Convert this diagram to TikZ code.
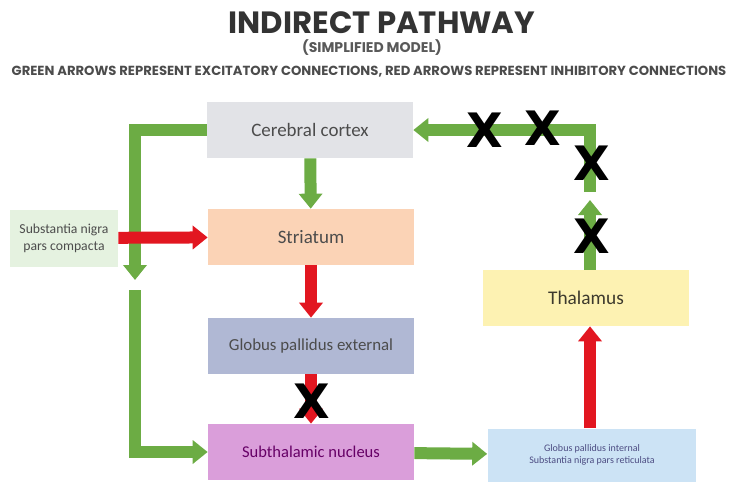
\documentclass[tikz,border=0pt]{standalone}
\usepackage{fontspec}
\setmainfont{Carlito}
\newfontfamily\headfont{Poppins}
\newfontfamily\crossfont{DejaVu Sans}
\usetikzlibrary{arrows.meta}

\definecolor{exgreen}{RGB}{108,172,68}
\definecolor{inred}{RGB}{226,22,32}
\definecolor{cortexfill}{RGB}{226,227,231}
\definecolor{striatfill}{RGB}{251,211,182}
\definecolor{gpefill}{RGB}{176,184,212}
\definecolor{stnfill}{RGB}{218,158,218}
\definecolor{sncfill}{RGB}{229,242,224}
\definecolor{thalfill}{RGB}{253,242,178}
\definecolor{gpifill}{RGB}{204,227,245}

\begin{document}
\begin{tikzpicture}
	[x=0.02cm, y=-0.02cm,
	box/.style ={rectangle, text=black!70, align=center, font=\fontsize{10.8}{12}\selectfont, minimum width=4.12cm, minimum height=1.12cm, inner sep=1pt},
	smallbox/.style ={box, font=\fontsize{5.7}{7}\selectfont},
	exc/.style ={draw=exgreen, line width=0.24cm, -{Triangle[length=0.3cm, width=0.46cm]}},
	inh/.style ={draw=inred, line width=0.24cm, -{Triangle[length=0.3cm, width=0.46cm]}},
	cross/.style ={font=\crossfont\bfseries\fontsize{27}{27}\selectfont, text=black, inner sep=0pt}]
	\useasboundingbox (0,0) rectangle (733,481);
	% headings
	\draw (382,23) node[font=\headfont\bfseries\fontsize{17.5}{19}\selectfont, text=black!80] (title) {INDIRECT PATHWAY};
	\draw (372,48) node[font=\headfont\bfseries\fontsize{8}{9}\selectfont, text=black!65] (subtitle) {(SIMPLIFIED MODEL)};
	\draw (369,72) node[font=\headfont\bfseries\fontsize{7.5}{8}\selectfont, text=black!70] (legend) {GREEN ARROWS REPRESENT EXCITATORY CONNECTIONS, RED ARROWS REPRESENT INHIBITORY CONNECTIONS};
	% boxes
	\draw (310,130) node[box, fill=cortexfill] (cortex) {Cerebral cortex};
	\draw (311,237) node[box, fill=striatfill] (striatum) {Striatum};
	\draw (311,346) node[box, fill=gpefill, font=\fontsize{9.6}{11}\selectfont] (gpe) {Globus pallidus external};
	\draw (311,452) node[box, fill=stnfill, text=violet!80!black, font=\fontsize{9.4}{11}\selectfont] (stn) {Subthalamic nucleus};
	\draw (64,238) node[smallbox, fill=sncfill, minimum width=2.16cm, minimum height=1.14cm, font=\fontsize{7.8}{9.5}\selectfont] (snc) {Substantia nigra\\pars compacta};
	\draw (586,298) node[box, fill=thalfill, text=black!75!olive, font=\fontsize{11}{12}\selectfont] (thal) {Thalamus};
	\draw (592,455) node[smallbox, fill=gpifill, minimum width=4.18cm, minimum height=1.06cm, text=blue!30!black!70] (gpi) {Globus pallidus internal\\Substantia nigra pars reticulata};
	% break points
	\coordinate (lbreak) at (135,280);
	\coordinate (lrestart) at (135,290);
	\coordinate (rbreak) at (590,200);
	\coordinate (rrestart) at (590,192);
	% connections
	\draw[exc] (cortex.west) -| (lbreak);
	\draw[exc] (lrestart) |- (stn.west);
	\draw[inh] (snc) -- (striatum);
	\draw[exc] (cortex) -- (striatum);
	\draw[inh] (striatum) -- (gpe);
	\draw[inh] (gpe) -- (stn);
	\draw[exc] (stn) -- (gpi);
	\draw[inh] (gpi.north -| 590,0) -- (thal.south -| 590,0);
	\draw[exc] (thal.north -| rbreak) -- (rbreak);
	\draw[exc] (rrestart) |- (cortex.east);
	% blocked connections
	\draw (312,401) node[cross] (x1) {X};
	\draw (485,130) node[cross] (x2) {X};
	\draw (543,128) node[cross] (x3) {X};
	\draw (592,163) node[cross] (x4) {X};
	\draw (592,236) node[cross] (x5) {X};
\end{tikzpicture}
\end{document}
